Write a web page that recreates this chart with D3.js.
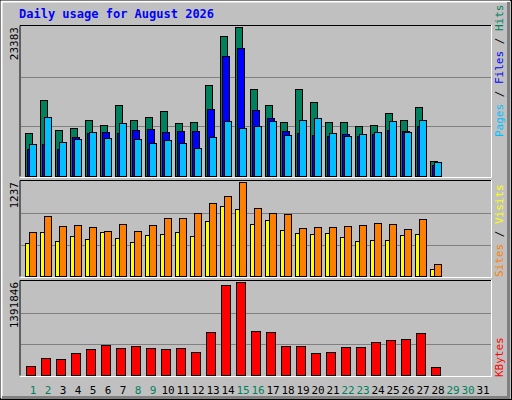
<!DOCTYPE html>
<html><head><meta charset="utf-8">
<script src="https://cdn.jsdelivr.net/npm/d3@7"></script>
<style>body{margin:0;background:#fff}svg{display:block}text{font-family:"DejaVu Sans Mono",monospace}</style>
</head><body><svg width="512" height="400"></svg>
<script>
// daily values
var days = d3.range(1, 32);
var weekend = [1, 2, 8, 9, 15, 16, 22, 23, 29, 30];
var hits = [6700,11850,7170,7480,8730,7950,11070,8730,9200,10130,8260,8420,14340,21980,23383,13720,11220,8420,13720,11690,8420,8420,7800,7950,9820,8730,10760,2340];
var files = [4210,4990,4210,6080,6700,6860,6700,7170,7330,6860,7020,7020,10450,18860,20110,10290,9040,7020,6700,6390,6240,6550,6240,6550,7170,7020,7800,1710];
var pages = [4990,9200,5300,5770,6860,5920,8260,5770,5140,5610,5140,4360,6080,8570,7480,7800,8570,6390,8730,9040,6700,6240,6550,6860,8570,6860,8730,2180];
var visits = [430,578,457,525,484,578,498,444,538,551,578,525,726,915,888,686,740,605,565,551,565,511,457,471,471,538,551,94];
var sites = [578,794,659,672,646,592,686,592,672,767,767,834,955,1049,1237,901,834,820,632,646,646,659,672,699,686,619,753,161];
var kbytes = [141800,248500,233300,324700,385700,446700,400900,431400,400900,385700,400900,340000,644900,1346100,1391846,660100,644900,431400,431400,324700,340000,416200,416200,492400,522900,538100,629600,126500];
var maxHits = 23383, maxSites = 1237, maxKB = 1391846;

var svg = d3.select("svg");
var L = 20, R = 491;
var x = d3.scaleLinear().domain([1, 2]).range([25, 40]);

svg.append("rect").attr("x", 0).attr("y", 0).attr("width", 512).attr("height", 400).attr("fill", "#c0c0c0");
// bevel frame
svg.append("rect").attr("x", 0.5).attr("y", 0.5).attr("width", 511).attr("height", 399).attr("fill", "none").attr("stroke", "#000");
svg.append("path").attr("d", "M1.5,398V1.5H510").attr("stroke", "#fff").attr("fill", "none").attr("stroke-width", 2);
svg.append("path").attr("d", "M508.5,2V397.5H2").attr("stroke", "#808080").attr("fill", "none").attr("stroke-width", 3);

svg.append("text").attr("x", 19).attr("y", 18).attr("fill", "#0000ff").attr("font-size", 12).attr("font-weight", "bold")
  .text("Daily usage for August 2026");

function panel(top, bot, max, label) {
  var y = d3.scaleLinear().domain([0, max]).range([bot, top + 2]);
  var g = svg.append("g");
  g.append("path").attr("d", "M" + L + "," + (bot + 0.5) + "V" + (top + 0.5) + "H" + R).attr("stroke", "#000").attr("fill", "none");
  g.append("path").attr("d", "M" + (R + 0.5) + "," + top + "V" + (bot + 1.5) + "H" + L).attr("stroke", "#fff").attr("fill", "none");
  [1 / 3, 2 / 3].forEach(function(f) {
    g.append("line").attr("x1", L + 1).attr("x2", R).attr("y1", Math.round(y(max * f)) + 0.5).attr("y2", Math.round(y(max * f)) + 0.5)
      .attr("stroke", "#808080");
  });
  g.append("text").attr("transform", "translate(18," + (top + 2) + ") rotate(-90)").attr("text-anchor", "end")
    .attr("font-size", 11).text(label);
  return y;
}

function bars(vals, y, dx, w, color) {
  svg.append("g").selectAll("rect").data(vals).join("rect")
    .attr("x", function(d, i) { return x(i + 1) + dx + 0.5; })
    .attr("y", function(d) { return Math.round(y(d)) + 0.5; })
    .attr("width", w)
    .attr("height", function(d) { return y(0) - Math.round(y(d)); })
    .attr("fill", color).attr("stroke", "#000");
}

var y1 = panel(25, 176, maxHits, maxHits);
bars(hits, y1, 0, 7, "#00805c");
bars(files, y1, 2, 7, "#0000ff");
bars(pages, y1, 4, 7, "#00c0ff");

var y2 = panel(180, 276, maxSites, maxSites);
bars(visits, y2, 0, 7, "#ffff00");
bars(sites, y2, 4, 7, "#ff8000");

var y3 = panel(280, 375, maxKB, maxKB);
bars(kbytes, y3, 1, 9, "#ff0000");

function sideLabel(yb, parts) {
  var t = svg.append("text").attr("transform", "translate(503," + yb + ") rotate(-90)").attr("font-size", 11);
  parts.forEach(function(p) { t.append("tspan").attr("fill", p[1]).text(p[0]); });
}
sideLabel(137, [["Pages", "#00c0ff"], [" / ", "#000"], ["Files", "#0000ff"], [" / ", "#000"], ["Hits", "#00805c"]]);
sideLabel(277, [["Sites", "#ff8000"], [" / ", "#000"], ["Visits", "#ffff00"]]);
sideLabel(377, [["KBytes", "#ff0000"]]);

svg.append("g").selectAll("text").data(days).join("text")
  .attr("x", function(d) { return x(d) + 8; }).attr("y", 394).attr("text-anchor", "middle").attr("font-size", 11)
  .attr("fill", function(d) { return weekend.indexOf(d) >= 0 ? "#00805c" : "#000"; })
  .text(function(d) { return d; });
</script></body></html>
